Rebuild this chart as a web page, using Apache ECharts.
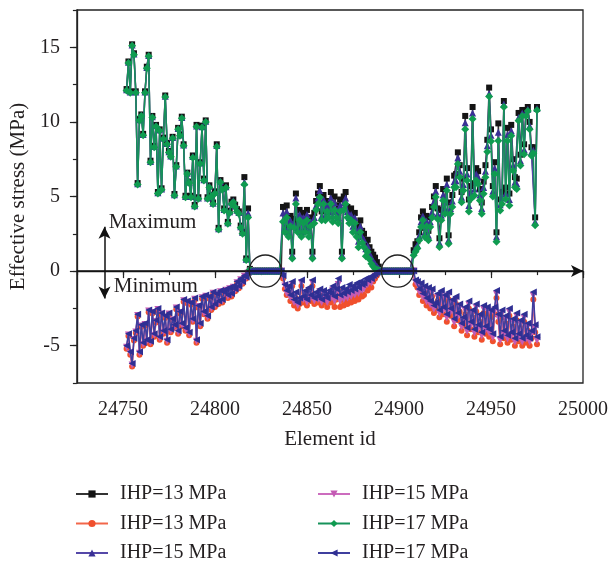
<!DOCTYPE html>
<html>
<head>
<meta charset="utf-8">
<script src="https://cdn.jsdelivr.net/npm/echarts@6/dist/echarts.min.js"></script>
<style>
html,body{margin:0;padding:0;background:#fff;}
#chart{width:611px;height:565px;}
</style>
</head>
<body>
<div id="chart"></div>
<script>
// ---------------- DATA ----------------
const firstElementId = 24752;
const xTickLabels = [24750, 24800, 24850, 24900, 24950, 25000];
const yTickLabels = [-5, 0, 5, 10, 15];
const seriesNames = ['IHP=13 MPa', 'IHP=13 MPa', 'IHP=15 MPa', 'IHP=15 MPa', 'IHP=17 MPa', 'IHP=17 MPa'];

// zero-stress element runs (inside the circles)
const zeroRunA = [0,0,0,0,0,0,0,0,0,0,0,0,0,0,0,0,0];
const zeroRunB = [0,0,0,0,0,0,0,0,0,0,0,0,0,0,0,0,0,0];

// maximum effective stress, IHP = 13 MPa
const max13Left = [12.2,14.05,12.05,15.2,14.6,12.05,5.9,10.2,10.5,9.2,12.05,13.7,14.5,7.4,10.4,8.4,9.8,5.3,9.5,5.55,8.95,11.77,8.6,8.05,7.77,9.0,5.17,7.1,9.6,9.17,10.35,8.5,5.05,6.6,6.0,5.05,7.75,4.43,9.8,4.95,7.3,9.75,6.2,10.1,4.95,5.75,5.1,4.6,5.35,8.5,2.9,6.1,5.6,4.2,5.75,3.3,4.05,4.65,4.8,4.45,4.15,4.0,3.05,2.65,6.3,0.85,4.2,0.15];
const max13Mid = [4.3,3.2,4.4,2.9,3.7,1.3,3.5,5.2,3.2,4.1,2.9,3.9,3.2,4.1,3.0,3.6,1.3,3.9,4.7,5.2,5.7,4.0,5.1,4.1,4.7,4.3,5.3,4.0,5.0,4.4,3.9,4.8,1.3,5.0,5.3,4.3,3.9,4.2,3.3,3.9,3.0,2.4,3.4,2.7,2.5,1.9,2.1,1.6,1.3,1.1,0.9,0.6,0.3];
const max13Right = [1.4,1.8,2.0,2.6,3.6,4.0,2.9,3.7,2.7,3.6,4.3,5.0,5.7,4.2,2.2,4.1,5.5,4.6,6.2,2.4,4.6,5.1,6.4,6.5,7.96,7.1,5.3,6.2,10.4,6.9,4.8,5.7,11.0,5.9,6.9,6.7,5.5,4.6,6.0,7.1,8.8,12.3,9.5,5.7,7.3,2.6,9.9,4.8,5.3,11.4,5.6,9.6,5.2,9.8,7.5,6.3,6.2,10.6,7.8,10.8,8.5,10.8,11.0,10.0,8.3,8.3,3.6,11.0];

// minimum effective stress, IHP = 13 MPa
const min13Left = [-5.2,-4.35,-5.6,-6.4,-4.65,-4.15,-3.05,-5.6,-3.75,-5.0,-3.65,-4.8,-2.75,-4.9,-2.85,-4.4,-3.45,-2.65,-4.6,-2.95,-4.2,-3.15,-4.8,-2.95,-4.1,-3.35,-3.8,-2.55,-4.2,-2.85,-3.7,-2.05,-4.0,-2.15,-4.3,-2.25,-3.4,-1.95,-4.8,-2.45,-3.7,-1.85,-2.9,-1.75,-3.2,-1.85,-2.6,-1.55,-2.4,-1.65,-2.2,-1.45,-2.1,-1.55,-1.35,-1.8,-1.25,-1.7,-1.15,-1.35,-0.85,-1.15,-0.65,-0.85,-0.4,-0.5,-0.15,0];
const min13Mid = [-0.5,-1.2,-1.6,-1.4,-2.0,-1.0,-2.3,-1.8,-2.5,-2.2,-1.0,-2.1,-1.7,-2.3,-1.5,-2.0,-1.0,-2.2,-1.8,-2.1,-1.6,-2.3,-1.8,-2.1,-2.4,-1.9,-2.1,-1.6,-2.4,-1.9,-1.3,-2.4,-1.9,-2.3,-2.0,-2.2,-1.7,-2.1,-1.8,-2.0,-1.6,-1.9,-1.5,-1.7,-1.6,-1.2,-1.3,-1.0,-1.1,-0.7,-0.5,-0.3,0];
const min13Right = [0,-0.9,-1.1,-1.6,-1.2,-2.0,-1.5,-2.3,-1.6,-2.5,-1.7,-2.8,-2.6,-2.0,-3.1,-1.8,-2.9,-2.1,-3.4,-1.9,-3.0,-2.4,-3.7,-2.2,-3.3,-2.7,-4.0,-3.6,-2.9,-4.3,-2.5,-3.9,-3.1,-4.4,-2.7,-4.1,-3.4,-4.6,-2.8,-4.2,-2.9,-4.4,-3.1,-4.7,-2.9,-1.8,-3.4,-4.9,-3.1,-4.5,-3.5,-4.8,-3.0,-4.6,-3.7,-5.0,-3.3,-4.7,-3.8,-5.0,-3.4,-4.8,-4.0,-5.0,-4.5,-1.9,-4.1,-4.9];

// maximum effective stress, IHP = 15 MPa
const max15Left = [12.15,14.0,12.0,15.15,14.55,12.0,5.85,10.15,10.45,9.15,12.0,13.65,14.45,7.35,10.35,8.35,9.75,5.25,9.45,5.5,8.9,11.72,8.55,8.0,7.72,8.95,5.12,7.05,9.55,9.12,10.3,8.45,5.0,6.55,5.95,5.0,7.68,4.38,9.73,4.9,7.25,9.68,6.13,10.05,4.9,5.68,5.05,4.55,5.28,8.42,2.84,6.02,5.52,4.13,5.66,3.24,3.98,4.58,4.71,4.37,4.08,3.92,2.98,2.58,5.95,0.8,3.9,0.12];
const max15Mid = [3.9,2.9,4.0,2.6,3.4,1.1,3.2,4.9,2.9,3.8,2.6,3.6,2.9,3.8,2.7,3.3,1.1,3.6,4.4,4.9,5.4,3.7,4.8,3.8,4.4,4.0,4.9,3.7,4.6,4.0,3.6,4.4,1.1,4.6,4.9,4.0,3.6,3.8,3.0,3.6,2.7,2.0,3.0,2.3,2.1,1.5,1.7,1.2,0.9,0.7,0.5,0.35,0.2];
const max15Right = [1.25,1.55,1.75,2.35,3.3,3.7,2.6,3.35,2.4,3.3,3.95,4.65,5.35,3.85,1.9,3.75,5.1,4.2,5.8,2.1,4.2,4.7,6.0,6.05,7.6,6.7,4.95,5.8,9.95,6.5,4.4,5.3,10.6,5.5,6.5,6.3,5.1,4.2,5.6,6.7,8.4,11.9,9.1,5.35,6.9,2.3,9.3,4.45,4.9,11.2,5.2,9.15,4.8,9.4,7.1,5.95,5.85,10.3,7.4,10.6,8.15,10.6,10.85,9.75,8.0,8.1,3.3,10.9];

// minimum effective stress, IHP = 15 MPa
const min15Left = [-5.1,-4.28,-5.5,-6.3,-4.58,-4.08,-2.98,-5.5,-3.68,-4.9,-3.58,-4.7,-2.68,-4.8,-2.78,-4.3,-3.38,-2.58,-4.5,-2.88,-4.1,-3.08,-4.7,-2.88,-4.0,-3.28,-3.7,-2.48,-4.1,-2.78,-3.6,-1.98,-3.9,-2.08,-4.2,-2.18,-3.3,-1.88,-4.7,-2.38,-3.6,-1.78,-2.8,-1.68,-3.1,-1.78,-2.5,-1.48,-2.3,-1.58,-2.1,-1.38,-2.0,-1.48,-1.28,-1.7,-1.18,-1.6,-1.08,-1.28,-0.78,-1.08,-0.58,-0.78,-0.35,-0.45,-0.12,0];
const min15Mid = [-0.4,-1.0,-1.5,-1.2,-1.8,-0.9,-2.1,-1.6,-2.3,-2.0,-0.8,-1.9,-1.5,-2.1,-1.3,-1.8,-0.8,-2.0,-1.6,-1.9,-1.4,-2.1,-1.5,-1.8,-2.1,-1.6,-1.8,-1.3,-2.0,-1.5,-0.9,-2.0,-1.5,-1.9,-1.6,-1.8,-1.3,-1.7,-1.4,-1.6,-1.2,-1.5,-1.1,-1.3,-1.2,-0.9,-0.9,-0.7,-0.8,-0.5,-0.35,-0.2,0];
const min15Right = [0,-0.75,-0.9,-1.4,-1.0,-1.75,-1.25,-2.05,-1.35,-2.25,-1.45,-2.55,-2.35,-1.75,-2.85,-1.55,-2.65,-1.85,-3.15,-1.65,-2.75,-2.15,-3.45,-1.95,-3.05,-2.45,-3.75,-3.35,-2.65,-4.05,-2.25,-3.65,-2.85,-4.15,-2.45,-3.85,-3.15,-4.35,-2.55,-3.95,-2.65,-4.15,-2.85,-4.45,-2.65,-1.55,-3.15,-4.65,-2.85,-4.25,-3.25,-4.55,-2.75,-4.35,-3.45,-4.75,-3.05,-4.45,-3.55,-4.75,-3.15,-4.55,-3.75,-4.75,-4.25,-1.65,-3.85,-4.65];

// maximum effective stress, IHP = 17 MPa
const max17Left = [12.1,13.95,11.95,15.1,14.5,11.95,5.8,10.1,10.4,9.1,11.95,13.6,14.4,7.3,10.3,8.3,9.7,5.2,9.4,5.45,8.85,11.67,8.5,7.95,7.67,8.9,5.07,7.0,9.5,9.07,10.25,8.4,4.95,6.5,5.9,4.95,7.6,4.33,9.67,4.85,7.2,9.62,6.07,10.0,4.85,5.6,5.0,4.5,5.2,8.33,2.78,5.95,5.45,4.07,5.58,3.18,3.9,4.5,4.62,4.29,4.0,3.85,2.91,2.5,5.8,0.75,3.6,0.1];
const max17Mid = [3.3,2.6,3.6,2.3,3.0,0.85,2.9,4.5,2.6,3.4,2.3,3.2,2.6,3.4,2.3,3.0,0.85,3.2,4.1,4.5,4.95,3.4,4.5,3.4,4.0,3.6,4.5,3.3,4.1,3.6,3.2,4.0,0.85,4.1,4.5,3.6,3.2,3.4,2.6,3.2,2.3,1.6,2.6,1.9,1.6,1.0,1.3,0.8,0.5,0.3,0.15,0.1,0.05];
const max17Right = [1.07,1.3,1.51,2.07,2.96,3.4,2.29,3.0,2.07,2.96,3.6,4.29,4.96,3.5,1.62,3.4,4.73,3.84,5.4,1.84,3.84,4.29,5.62,5.62,7.18,6.29,4.62,5.4,9.51,6.07,4.0,4.84,10.2,5.07,6.07,5.84,4.73,3.84,5.18,6.29,8.0,11.7,8.7,5.0,6.5,1.96,8.73,4.07,4.5,11.0,4.84,8.73,4.4,9.07,6.73,5.62,5.5,10.07,7.07,10.4,7.84,10.4,10.73,9.51,7.73,7.9,3.07,10.78];

// minimum effective stress, IHP = 17 MPa
const min17Left = [-5.0,-4.2,-5.4,-6.2,-4.5,-4.0,-2.9,-5.4,-3.6,-4.8,-3.5,-4.6,-2.6,-4.7,-2.7,-4.2,-3.3,-2.5,-4.4,-2.8,-4.0,-3.0,-4.6,-2.8,-3.9,-3.2,-3.6,-2.4,-4.0,-2.7,-3.5,-1.9,-3.8,-2.0,-4.1,-2.1,-3.2,-1.8,-4.6,-2.3,-3.5,-1.7,-2.7,-1.6,-3.0,-1.7,-2.4,-1.4,-2.2,-1.5,-2.0,-1.3,-1.9,-1.4,-1.2,-1.6,-1.1,-1.5,-1.0,-1.2,-0.7,-1.0,-0.5,-0.7,-0.3,-0.4,-0.1,0];
const min17Mid = [-0.3,-0.9,-1.3,-1.0,-1.6,-0.7,-1.9,-1.4,-2.1,-1.8,-0.6,-1.7,-1.3,-1.9,-1.1,-1.6,-0.6,-1.8,-1.4,-1.7,-1.2,-1.9,-1.3,-1.6,-1.8,-1.3,-1.5,-1.0,-1.7,-1.2,-0.5,-1.6,-1.1,-1.5,-1.2,-1.4,-0.9,-1.3,-1.0,-1.2,-0.8,-1.1,-0.7,-0.9,-0.8,-0.5,-0.6,-0.4,-0.5,-0.3,-0.2,-0.1,0];
const min17Right = [0,-0.6,-0.7,-1.2,-0.8,-1.5,-1.0,-1.8,-1.1,-2.0,-1.2,-2.3,-2.1,-1.5,-2.6,-1.3,-2.4,-1.6,-2.9,-1.4,-2.5,-1.9,-3.2,-1.7,-2.8,-2.2,-3.5,-3.1,-2.4,-3.8,-2.0,-3.4,-2.6,-3.9,-2.2,-3.6,-2.9,-4.1,-2.3,-3.7,-2.4,-3.9,-2.6,-4.2,-2.4,-1.3,-2.9,-4.4,-2.6,-4.0,-3.0,-4.3,-2.5,-4.1,-3.2,-4.5,-2.8,-4.2,-3.3,-4.5,-2.9,-4.3,-3.5,-4.5,-4.0,-1.4,-3.6,-4.4];

// annotation anchors (data coordinates)
const zeroCircleCenters = [[24827.4, 0], [24899.2, 0]];
const arrowElementId = 24740;
const arrowRange = [2.97, -1.83];
const annotationTexts = [{text: 'Maximum', at: [24742.3, 3.28]}, {text: 'Minimum', at: [24745.0, -1.0]}];

// ---------------- CHART ----------------
const FONT = '"Liberation Serif", "Times New Roman", serif';
const TXT = '#231f20';

function joinRegions(left, mid, right) {
  const vals = [].concat(left, zeroRunA, mid, zeroRunB, right);
  return vals.map((v, i) => [firstElementId + i, v]);
}

const styles = [
  {color: '#141414', line: '#333333', symbol: 'rect', rotate: 0, size: 6},
  {color: '#f0502d', line: '#f2674a', symbol: 'circle', rotate: 0, size: 6},
  {color: '#3a3096', line: '#5548a8', symbol: 'triangle', rotate: 0, size: 7},
  {color: '#c45bb4', line: '#cc6cbe', symbol: 'triangle', rotate: 180, size: 7},
  {color: '#0f9b50', line: '#16925a', symbol: 'diamond', rotate: 0, size: 8},
  {color: '#2f2f93', line: '#3f3f9e', symbol: 'triangle', rotate: 90, size: 7}
];
const dataSets = [
  joinRegions(max13Left, max13Mid, max13Right),
  joinRegions(min13Left, min13Mid, min13Right),
  joinRegions(max15Left, max15Mid, max15Right),
  joinRegions(min15Left, min15Mid, min15Right),
  joinRegions(max17Left, max17Mid, max17Right),
  joinRegions(min17Left, min17Mid, min17Right)
];
const ids = seriesNames.map((n, i) => n + ' #' + i);

const series = dataSets.map((d, i) => ({
  name: ids[i],
  type: 'line',
  data: d,
  xAxisIndex: 0,
  yAxisIndex: 0,
  showSymbol: true,
  showAllSymbol: true,
  symbol: styles[i].symbol,
  symbolRotate: styles[i].rotate,
  symbolSize: styles[i].size,
  itemStyle: {color: styles[i].color},
  lineStyle: {color: styles[i].line, width: 1.5},
  emphasis: {disabled: true},
  animation: false,
  z: 2 + i
}));

// zero reference arrow and the Maximum/Minimum double arrow
series[5].markLine = {
  silent: true,
  animation: false,
  label: {show: false},
  lineStyle: {color: '#111', width: 1.5, type: 'solid'},
  symbol: ['none', 'arrow'],
  symbolSize: [9, 12],
  data: [
    {yAxis: 0},
    [{coord: [arrowElementId, arrowRange[0]], symbol: 'arrow'}, {coord: [arrowElementId, arrowRange[1]], symbol: 'arrow'}]
  ],
  z: 20
};

const tickLine = {color: '#222', width: 1.2};
const legendText = {fontFamily: FONT, fontSize: 20, color: TXT, lineHeight: 20, padding: [0, 0, 0, 7]};
const chart = echarts.init(document.getElementById('chart'), null, {renderer: 'canvas'});
chart.setOption({
  backgroundColor: '#fff',
  animation: false,
  grid: {left: 75, right: 25, top: 10, bottom: 182, show: true, borderColor: '#222', borderWidth: 1.3, backgroundColor: 'transparent'},
  xAxis: [
    {type: 'value', min: 24725, max: 25000, interval: 25, position: 'bottom',
     axisLine: {show: true, lineStyle: {color: '#222', width: 1.3}},
     axisTick: {show: true, length: 4, lineStyle: tickLine},
     axisLabel: {show: false}, splitLine: {show: false}},
    {type: 'value', min: 24725, max: 25000, interval: 25, position: 'bottom',
     axisLine: {show: false},
     axisTick: {show: true, length: 7, customValues: xTickLabels, lineStyle: tickLine},
     axisLabel: {show: true, customValues: xTickLabels, formatter: v => String(v), margin: 17, fontFamily: FONT, fontSize: 20, color: TXT},
     splitLine: {show: false},
     name: 'Element id', nameLocation: 'middle', nameGap: 46,
     nameTextStyle: {fontFamily: FONT, fontSize: 21, color: TXT}}
  ],
  yAxis: [
    {type: 'value', min: -7.5, max: 17.5, interval: 2.5, position: 'left',
     axisLine: {show: true, lineStyle: {color: '#222', width: 1.3}},
     axisTick: {show: true, length: 4, lineStyle: tickLine},
     axisLabel: {show: false}, splitLine: {show: false}},
    {type: 'value', min: -7.5, max: 17.5, interval: 2.5, position: 'left',
     axisLine: {show: false},
     axisTick: {show: true, length: 7, customValues: yTickLabels, lineStyle: tickLine},
     axisLabel: {show: true, customValues: yTickLabels, formatter: v => String(v), margin: 17, fontFamily: FONT, fontSize: 20, color: TXT},
     splitLine: {show: false},
     name: 'Effective stress (MPa)', nameLocation: 'middle', nameGap: 46, nameRotate: 90,
     nameTextStyle: {fontFamily: FONT, fontSize: 21, color: TXT}}
  ],
  legend: [
    {data: ids.slice(0, 3), orient: 'vertical', left: 75, top: 484, height: 81, padding: 0, itemWidth: 32, itemHeight: 9, itemGap: 9.5,
     formatter: n => n.replace(/ #\d$/, ''), textStyle: legendText},
    {data: ids.slice(3, 6), orient: 'vertical', left: 317, top: 484, height: 81, padding: 0, itemWidth: 32, itemHeight: 9, itemGap: 9.5,
     formatter: n => n.replace(/ #\d$/, ''), textStyle: legendText}
  ],
  series: series
});

// circles and text annotations anchored to data coordinates
const finder = {xAxisIndex: 0, yAxisIndex: 0};
const graphics = [];
zeroCircleCenters.forEach(c => {
  const p = chart.convertToPixel(finder, c);
  const r = chart.convertToPixel(finder, [c[0] + 8.75, 0])[0] - p[0];
  graphics.push({type: 'circle', shape: {cx: p[0], cy: p[1], r: r}, style: {fill: 'none', stroke: '#222', lineWidth: 1.3}, z: 100, silent: true});
});
annotationTexts.forEach(a => {
  const p = chart.convertToPixel(finder, a.at);
  graphics.push({type: 'text', x: p[0], y: p[1], style: {text: a.text, font: '21px ' + FONT, fill: TXT, textAlign: 'left', textVerticalAlign: 'middle'}, z: 100, silent: true});
});
chart.setOption({graphic: graphics});
</script>
</body>
</html>
